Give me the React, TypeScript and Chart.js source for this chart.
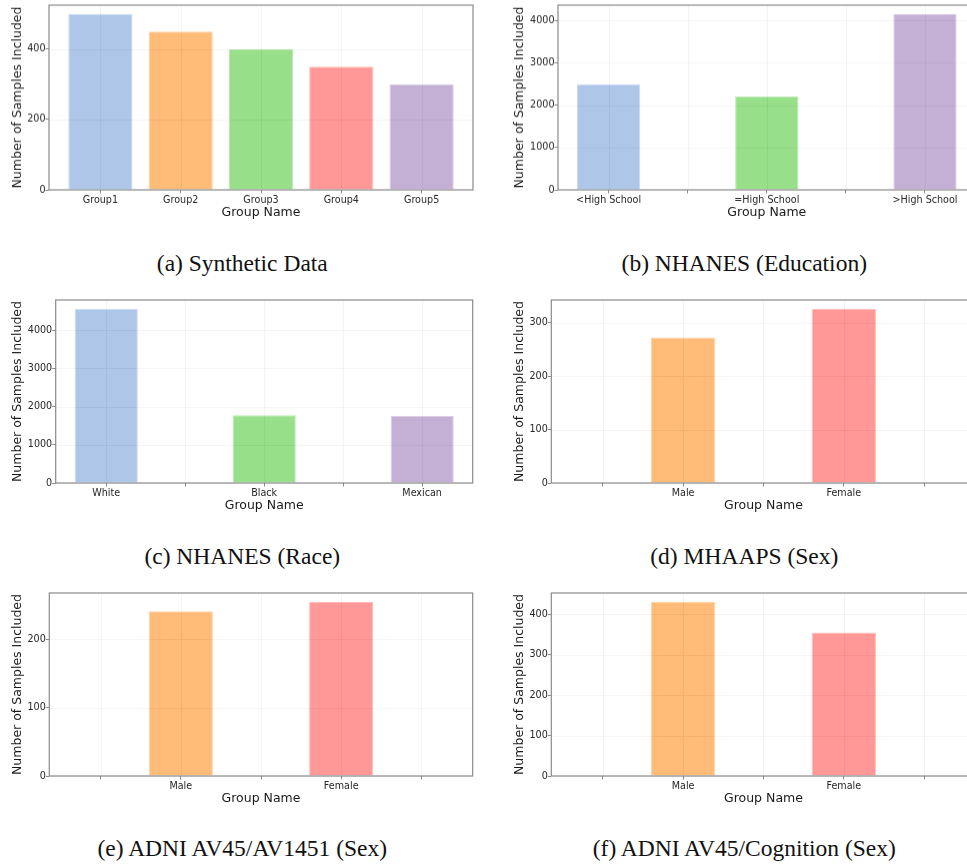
import React, { useEffect, useRef } from 'react';
import { Chart, registerables } from 'chart.js';

Chart.register(...registerables);

// Five group slots share one colour each across every panel.
const slotColors = ['#aec7e8', '#ffbb78', '#98df8a', '#ff9896', '#c5b0d5'];

// (a) Synthetic Data
const syntheticLabels = ['Group1', 'Group2', 'Group3', 'Group4', 'Group5'];
const syntheticValues = [500, 450, 400, 350, 300];
const syntheticTicks = [0, 200, 400];

// (b) NHANES (Education)
const educationLabels = ['<High School', '', '=High School', '', '>High School'];
const educationValues = [2490, 0, 2200, 0, 4150];
const educationTicks = [0, 1000, 2000, 3000, 4000];

// (c) NHANES (Race)
const raceLabels = ['White', '', 'Black', '', 'Mexican'];
const raceValues = [4560, 0, 1775, 0, 1760];
const raceTicks = [0, 1000, 2000, 3000, 4000];

// (d) MHAAPS (Sex)
const mhaapsLabels = ['', 'Male', '', 'Female', ''];
const mhaapsValues = [0, 272, 0, 326, 0];
const mhaapsTicks = [0, 100, 200, 300];

// (e) ADNI AV45/AV1451 (Sex)
const adniTauLabels = ['', 'Male', '', 'Female', ''];
const adniTauValues = [0, 241, 0, 255, 0];
const adniTauTicks = [0, 100, 200];

// (f) ADNI AV45/Cognition (Sex)
const adniCogLabels = ['', 'Male', '', 'Female', ''];
const adniCogValues = [0, 431, 0, 355, 0];
const adniCogTicks = [0, 100, 200, 300, 400];

const X_TITLE = 'Group Name';
const Y_TITLE = 'Number of Samples Included';

type PanelSpec = {
  labels: string[];
  values: number[];
  yTicks: number[];
  caption: string;
  col: 0 | 1;
  // plot-area box in page pixels: left, top, right, bottom
  area: [number, number, number, number];
  captionBaseline: number;
};

const panels: PanelSpec[] = [
  { labels: syntheticLabels, values: syntheticValues, yTicks: syntheticTicks, caption: '(a) Synthetic Data', col: 0, area: [49, 5.3, 473, 190.2], captionBaseline: 272 },
  { labels: educationLabels, values: educationValues, yTicks: educationTicks, caption: '(b) NHANES (Education)', col: 1, area: [558, 5.3, 975.6, 190.2], captionBaseline: 272 },
  { labels: raceLabels, values: raceValues, yTicks: raceTicks, caption: '(c) NHANES (Race)', col: 0, area: [55.7, 300, 472.7, 483.3], captionBaseline: 565 },
  { labels: mhaapsLabels, values: mhaapsValues, yTicks: mhaapsTicks, caption: '(d) MHAAPS (Sex)', col: 1, area: [551.3, 300, 975.6, 483.3], captionBaseline: 565 },
  { labels: adniTauLabels, values: adniTauValues, yTicks: adniTauTicks, caption: '(e) ADNI AV45/AV1451 (Sex)', col: 0, area: [49.3, 592.7, 472.7, 776.3], captionBaseline: 857 },
  { labels: adniCogLabels, values: adniCogValues, yTicks: adniCogTicks, caption: '(f) ADNI AV45/Cognition (Sex)', col: 1, area: [551.3, 592.7, 975.6, 776.3], captionBaseline: 857 },
];

const COL_LEFT = [0, 487];
const COL_WIDTH = [490, 510];
const COL_CAPTION_CENTER = [242.3, 744.3];
const COL_YTITLE_CENTER = [17.8, 519.7];
const TOP_GAP = 20;
const X_AXIS_H = 31;
const BOTTOM_GAP = 4;
const SPINE = '#8a8a8a';

function lighten(hex: string, t: number) {
  const n = parseInt(hex.slice(1), 16);
  const r = (n >> 16) & 255, g = (n >> 8) & 255, b = n & 255;
  const m = (c: number) => Math.round(c + (255 - c) * t);
  return `rgb(${m(r)}, ${m(g)}, ${m(b)})`;
}

// Faint grid drawn over the bars, then a full frame around the plot area.
const gridAndFrame = {
  id: 'gridAndFrame',
  afterDatasetsDraw(chart: any) {
    const { ctx, chartArea: a, scales } = chart;
    const xs = scales.x, ys = scales.y;
    ctx.save();
    ctx.strokeStyle = 'rgba(0, 0, 0, 0.045)';
    ctx.lineWidth = 1;
    ctx.beginPath();
    for (const t of xs.ticks) {
      const px = Math.round(xs.getPixelForValue(t.value)) + 0.5;
      ctx.moveTo(px, a.top);
      ctx.lineTo(px, a.bottom);
    }
    for (const t of ys.ticks) {
      const py = Math.round(ys.getPixelForValue(t.value)) + 0.5;
      ctx.moveTo(a.left, py);
      ctx.lineTo(a.right, py);
    }
    ctx.stroke();
    ctx.strokeStyle = SPINE;
    ctx.lineWidth = 1.2;
    ctx.strokeRect(a.left, a.top, a.right - a.left, a.bottom - a.top);
    ctx.restore();
  },
};

function BarPanel({ spec }: { spec: PanelSpec }) {
  const ref = useRef<HTMLCanvasElement | null>(null);
  const cx = COL_LEFT[spec.col];
  const cw = COL_WIDTH[spec.col];
  const [pl, pt, pr, pb] = spec.area;
  const cy = pt - TOP_GAP;
  const ch = pb + X_AXIS_H + BOTTOM_GAP - cy;

  useEffect(() => {
    if (!ref.current) return;
    const n = spec.values.length;
    const xMin = -(0.4 + 0.05 * (n - 1 + 0.8));
    const xMax = n - 1 + 0.4 + 0.05 * (n - 1 + 0.8);
    const yMax = Math.max(...spec.values) * 1.05;
    const colors = spec.values.map((_, i) => slotColors[i % slotColors.length]);

    const chart = new Chart(ref.current, {
      type: 'bar',
      data: {
        datasets: [
          {
            data: spec.values.map((v, i) => ({ x: i, y: v })),
            backgroundColor: colors,
            borderColor: colors.map((c) => lighten(c, 0.35)),
            borderWidth: (c: any) => (spec.values[c.dataIndex] ? 1 : 0),
            borderSkipped: 'bottom',
            barPercentage: 0.8,
            categoryPercentage: 1,
          },
        ],
      },
      plugins: [gridAndFrame],
      options: {
        responsive: false,
        animation: false,
        devicePixelRatio: 1,
        layout: {
          padding: { left: 0, top: TOP_GAP, right: cx + cw - pr, bottom: BOTTOM_GAP },
        },
        plugins: { legend: { display: false }, tooltip: { enabled: false }, title: { display: false } },
        scales: {
          x: {
            type: 'linear',
            min: xMin,
            max: xMax,
            offset: false,
            afterBuildTicks: (s: any) => {
              s.ticks = spec.labels.map((_, i) => ({ value: i }));
            },
            afterFit: (s: any) => {
              s.height = X_AXIS_H;
            },
            ticks: {
              autoSkip: false,
              maxRotation: 0,
              padding: 1,
              color: '#262626',
              font: { family: 'DejaVu Sans', size: 9.6 },
              callback: (v: any) => spec.labels[Math.round(Number(v))] ?? '',
            },
            grid: { display: true, offset: false, drawOnChartArea: false, drawTicks: true, tickLength: 3.5, color: SPINE },
            border: { display: false },
            title: {
              display: true,
              text: X_TITLE,
              color: '#1a1a1a',
              font: { family: 'DejaVu Sans', size: 12.5 },
              padding: { top: 0, bottom: 1 },
            },
          },
          y: {
            type: 'linear',
            min: 0,
            max: yMax,
            afterBuildTicks: (s: any) => {
              s.ticks = spec.yTicks.map((v) => ({ value: v }));
            },
            afterFit: (s: any) => {
              s.width = pl - cx;
            },
            ticks: {
              padding: 0,
              color: '#262626',
              font: { family: 'DejaVu Sans', size: 9.6 },
              callback: (v: any) => String(v),
            },
            grid: { display: true, drawOnChartArea: false, drawTicks: true, tickLength: 3.5, color: SPINE },
            border: { display: false },
            title: {
              display: true,
              text: Y_TITLE,
              color: '#1a1a1a',
              font: { family: 'DejaVu Sans', size: 12.5 },
              padding: { top: COL_YTITLE_CENTER[spec.col] - cx - 7.5, bottom: 0 },
            },
          },
        },
      } as any,
    });
    return () => chart.destroy();
  }, [spec]);

  return (
    <>
      <canvas
        ref={ref}
        width={cw}
        height={ch}
        style={{ position: 'absolute', left: cx, top: cy, width: cw, height: ch }}
      />
      <div
        style={{
          position: 'absolute',
          left: COL_CAPTION_CENTER[spec.col] - 240,
          width: 480,
          top: spec.captionBaseline - 19.7,
          textAlign: 'center',
          fontFamily: '"Liberation Serif", "Times New Roman", Times, serif',
          fontSize: 23.5,
          lineHeight: 1,
          color: '#111',
          whiteSpace: 'nowrap',
        }}
      >
        {spec.caption}
      </div>
    </>
  );
}

export default function App() {
  return (
    <div
      style={{
        position: 'fixed',
        left: 0,
        top: 0,
        width: 967,
        height: 865,
        overflow: 'hidden',
        background: '#ffffff',
      }}
    >
      {panels.map((p) => (
        <BarPanel key={p.caption} spec={p} />
      ))}
    </div>
  );
}
